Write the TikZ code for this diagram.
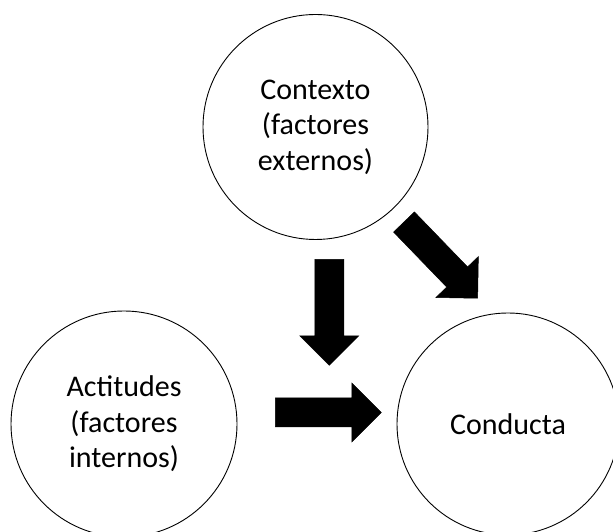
\documentclass[tikz,border=0pt]{standalone}
\usepackage{fontspec}
\setmainfont{Carlito}
\begin{document}
\begin{tikzpicture}[x=1pt,y=1pt,
  factor/.style={circle,draw=black,line width=0.9pt,inner sep=0pt,
    align=center,font=\fontsize{30}{35.5}\selectfont},
  blockarrow/.pic={
    \fill[black,draw=black,line width=0.5pt,line join=miter]
      (0,-14.5) -- (76.5,-14.5) -- (76.5,-29.5) -- (106,0)
      -- (76.5,29.5) -- (76.5,14.5) -- (0,14.5) -- cycle;
  }]
\useasboundingbox (0,0) rectangle (613,532);
\node[factor,minimum size=225pt] (ctx) at (315.5,405) {Contexto\\(factores\\externos)};
\node[factor,minimum size=226pt] (act) at (124,108) {Actitudes\\(factores\\internos)};
\node[factor,minimum size=222pt] (con) at (508,108) {Conducta};
% block arrows pointing towards the behaviour circle
\pic[rotate=-90] (down) at (329.3,272.7) {blockarrow};
\pic[rotate=0] (right) at (275.3,119.5) {blockarrow};
\pic[rotate=-46] (diag) at (404,310) {blockarrow};
\end{tikzpicture}
\end{document}
